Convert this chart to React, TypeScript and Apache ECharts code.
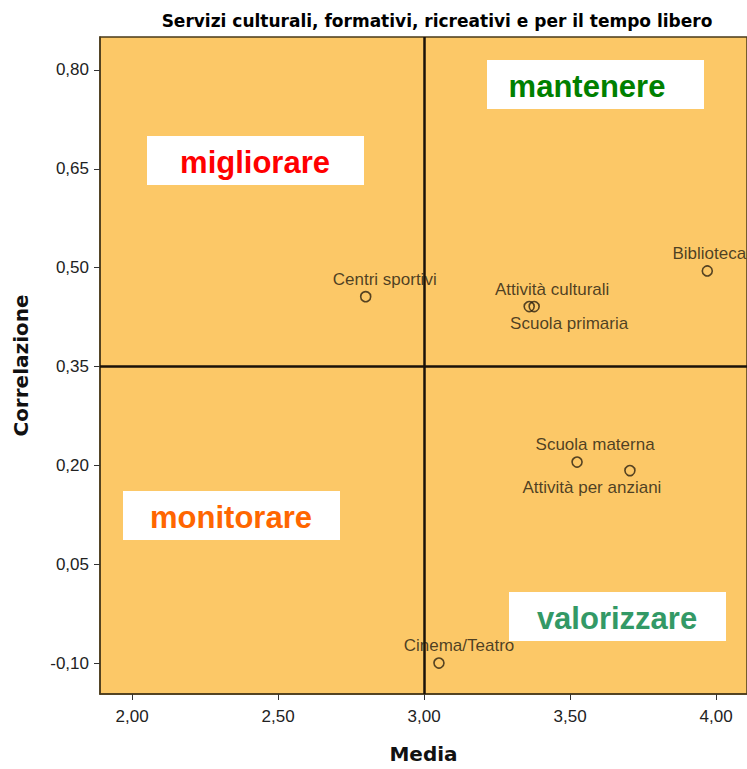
import React, { useEffect, useRef } from "react";
import * as echarts from "echarts";

const names = ["Centri sportivi", "Attività culturali", "Scuola primaria", "Biblioteca", "Scuola materna", "Attività per anziani", "Cinema/Teatro"];
const media = [2.80, 3.36, 3.377, 3.97, 3.524, 3.705, 3.051];
const correlazione = [0.456, 0.441, 0.441, 0.495, 0.205, 0.192, -0.10];
const xTicks = [2.0, 2.5, 3.0, 3.5, 4.0];
const yTicks = [-0.1, 0.05, 0.2, 0.35, 0.5, 0.65, 0.8];
const refX = 3.0;
const refY = 0.35;

// label placement (style only): position, horizontal shift
const labelPlace: [string, number][] = [
  ["top", 19],
  ["top", 23],
  ["bottom", 35],
  ["top", 2],
  ["top", 18],
  ["bottom", -38],
  ["top", 20],
];

const fmt = (v: number) => v.toFixed(2).replace(".", ",");
const WIDE = "'DejaVu Sans', 'Liberation Sans', Arial, sans-serif";
const ARIAL = "'Liberation Sans', Arial, sans-serif";

function quadLabel(text: string, color: string, left: number, top: number, dx: number) {
  return {
    type: "group",
    left,
    top,
    children: [
      { type: "rect", shape: { x: 0, y: 0, width: 217, height: 49 }, style: { fill: "#ffffff" } },
      {
        type: "text",
        x: 108 + dx,
        y: 26,
        style: {
          text,
          fill: color,
          font: `bold 31px ${ARIAL}`,
          textAlign: "center",
          textVerticalAlign: "middle",
        },
      },
    ],
  };
}

export default function App() {
  const ref = useRef<HTMLDivElement>(null);
  useEffect(() => {
    if (!ref.current) return;
    const chart = echarts.init(ref.current, null, { renderer: "svg" });
    const data = names.map((n, i) => ({
      name: n,
      value: [media[i], correlazione[i]],
      label: { position: labelPlace[i][0] },
    }));
    chart.setOption({
      animation: false,
      backgroundColor: "#ffffff",
      title: {
        text: "Servizi culturali, formativi, ricreativi e per il tempo libero",
        left: 432,
        textAlign: "center",
        top: 7,
        textStyle: { fontFamily: WIDE, fontSize: 17, fontWeight: "bold", color: "#000" },
      },
      grid: {
        left: 100,
        top: 37,
        right: 0,
        bottom: 74,
        show: true,
        backgroundColor: "#FCC867",
        borderColor: "#4a3a1a",
        borderWidth: 1.5,
      },
      xAxis: {
        type: "value",
        min: 1.89,
        max: 4.106,
        name: "Media",
        nameLocation: "middle",
        nameGap: 50,
        nameTextStyle: { fontFamily: WIDE, fontSize: 20, fontWeight: "bold", color: "#111" },
        axisLine: { show: true, onZero: false, lineStyle: { color: "#4a3a1a", width: 1.5 } },
        axisTick: { show: true, customValues: xTicks, length: 6, lineStyle: { color: "#333" } },
        axisLabel: {
          customValues: xTicks,
          formatter: (v: number) => fmt(v),
          fontFamily: ARIAL,
          fontSize: 17,
          color: "#222",
          margin: 14,
        },
        splitLine: { show: false },
      },
      yAxis: {
        type: "value",
        min: -0.147,
        max: 0.85,
        name: "Correlazione",
        nameLocation: "middle",
        nameGap: 69,
        nameTextStyle: { fontFamily: WIDE, fontSize: 20, fontWeight: "bold", color: "#111" },
        axisLine: { show: true, onZero: false, lineStyle: { color: "#4a3a1a", width: 1.5 } },
        axisTick: { show: true, customValues: yTicks, length: 6, lineStyle: { color: "#333" } },
        axisLabel: {
          customValues: yTicks,
          formatter: (v: number) => fmt(v),
          fontFamily: ARIAL,
          fontSize: 17,
          color: "#222",
          margin: 11,
        },
        splitLine: { show: false },
      },
      series: [
        {
          type: "scatter",
          data,
          symbol: "circle",
          symbolSize: 10,
          itemStyle: { color: "rgba(0,0,0,0)", borderColor: "#2a2010", borderWidth: 1.6 },
          label: {
            show: true,
            formatter: "{b}",
            fontFamily: ARIAL,
            fontSize: 17,
            color: "#1e1a10",
            distance: 3,
          },
          labelLayout: (p: any) => ({ dx: labelPlace[p.dataIndex][1], hideOverlap: false }),
          markLine: {
            silent: true,
            symbol: "none",
            label: { show: false },
            lineStyle: { color: "#1a1208", width: 2.5, type: "solid" },
            data: [{ xAxis: refX }, { yAxis: refY }],
          },
          z: 5,
        },
      ],
      graphic: [
        quadLabel("migliorare", "#FF0000", 147, 136, 0),
        quadLabel("mantenere", "#008000", 487, 60, -8),
        quadLabel("monitorare", "#FF6600", 123, 491, 0),
        quadLabel("valorizzare", "#339966", 509, 592, 0),
      ],
    });
    return () => chart.dispose();
  }, []);
  return <div ref={ref} style={{ width: 747, height: 769, position: "absolute", left: 0, top: 0 }} />;
}
